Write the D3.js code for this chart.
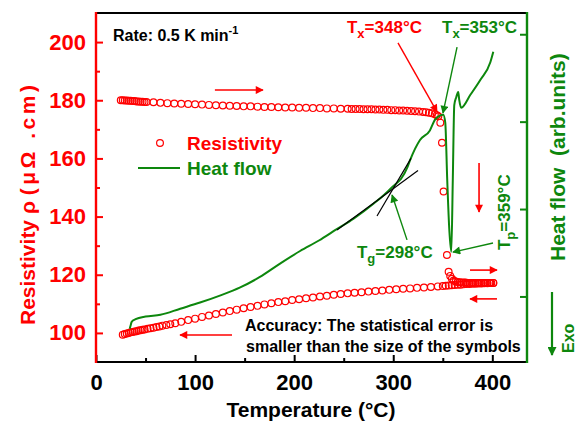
<!DOCTYPE html>
<html><head><meta charset="utf-8">
<script src="https://cdn.jsdelivr.net/npm/d3@7"></script>
<style>
body{margin:0;background:#fff}
text{font-family:Arial,"Liberation Sans",sans-serif;font-weight:bold}
</style>
</head><body><svg id="c" width="580" height="423"></svg>
<script>
// ---------- data ----------
const heatT   = [25,27,29,31,33,35,37,39,41,43,45,47,49,51,
  58,65,72,79,86,93,100,107,114,121,128,135,142,149,156,163,170,177,184,191,198,205,212,219,226,233,240,247,254,
  258,262,266,270,274,278,282,286,290,294,298,302,306,310,314,318,322,326,330,333,336,339,342,344,345.5,
  347.5,349.2,350.8,354.2,355.9,357.5,359.2,
  361,363,365,367,369,371,373,375,377,379,381,383,385,387,389,391,393,395,397,399,401];
const heatRho = [180.0,180.0,179.9,179.9,179.8,179.8,179.7,179.7,179.6,179.6,179.5,179.5,179.4,179.4,
  179.3,179.1,179.0,178.9,178.8,178.7,178.6,178.5,178.4,178.3,178.2,178.1,178.0,177.9,177.9,177.8,177.7,177.7,177.6,177.5,177.5,177.4,177.4,177.3,177.3,177.2,177.2,177.1,177.1,
  177.0,177.0,177.0,176.9,176.9,176.9,176.8,176.8,176.7,176.7,176.6,176.6,176.5,176.5,176.4,176.3,176.2,176.1,176.0,175.9,175.7,175.5,175.2,174.8,174.5,
  172.3,165.4,148.6,126.8,121.0,119.6,118.6,
  118.0,117.7,117.5,117.4,117.3,117.3,117.3,117.2,117.2,117.2,117.2,117.2,117.2,117.2,117.2,117.2,117.2,117.2,117.2,117.2,117.2];

const coolT   = [27,29,31,33,35,37,39,41,43,45,47,49,
  52,55,58,61,64,67,71,75,80,86,93,
  100,107,114,121,128,135,142,149,156,163,170,177,184,191,198,205,212,219,226,233,240,247,254,261,268,275,282,289,296,303,310,317,324,331,338,345,
  350,353,356,359,362,365,368,371,374,377,380,383,386,389,392,395,398,401];
const coolRho = [99.4,99.6,99.8,100.0,100.2,100.3,100.5,100.6,100.8,100.9,101.1,101.2,
  101.4,101.6,101.8,102.0,102.2,102.5,102.7,103.0,103.3,103.8,104.4,
  104.9,105.5,106.0,106.5,107.0,107.5,108.0,108.5,108.9,109.3,109.8,110.2,110.6,110.9,111.3,111.6,111.9,112.2,112.5,112.8,113.1,113.4,113.6,113.8,114.0,114.2,114.4,114.6,114.8,115.0,115.2,115.3,115.5,115.6,115.8,116.0,
  116.1,116.2,116.3,116.4,116.5,116.6,116.6,116.7,116.8,116.8,116.9,116.9,117.0,117.0,117.1,117.1,117.2,117.2];

const flowT   = [34,35,36,40,50,65,85,105,125,145,165,185,206,225,243,260,280,297,314,317,327,337,342,347,350.5,352.5,354.5,356.6,358.6,360.1,361.6,363.6,365.6,366.6,368.6,378,388,398,401];
const flowVal = [0.63,0.67,0.71,0.74,0.77,0.79,0.86,0.93,1.01,1.10,1.22,1.37,1.52,1.64,1.77,1.89,2.06,2.23,2.47,2.56,2.79,2.90,3.02,3.07,3.08,2.99,2.33,1.76,1.51,2.33,3.19,3.28,3.34,3.25,3.16,3.31,3.48,3.68,3.80];

// tangent construction lines (T, heat flow)
const tangentA = [[283.6,1.92],[317.9,2.58]];
const tangentB = [[243.2,1.76],[325.0,2.44]];

const xTicks = [0,100,200,300,400];
const xMinor = [50,150,250,350];
const yTicks = [100,120,140,160,180,200];
const yMinor = [110,130,150,170,190];
const flowTicks = [1,2,3,4];

// ---------- setup ----------
const RED = "#ff0000", GREEN = "#0d870d";
const svg = d3.select("#c");
const L = 96, R = 527, T = 13, B = 362;
const x = d3.scaleLinear().domain([0,435]).range([L,R]);
const y = d3.scaleLinear().domain([90,210]).range([B,T]);
const y2 = d3.scaleLinear().domain([0.25,4.243]).range([B,T]);

const defs = svg.append("defs");
function marker(id, color, w, h){
  defs.append("marker").attr("id",id).attr("markerUnits","userSpaceOnUse")
    .attr("viewBox","0 0 10 10").attr("refX",9).attr("refY",5)
    .attr("markerWidth",w).attr("markerHeight",h).attr("orient","auto")
    .append("path").attr("d","M0,0 L10,5 L0,10 z").attr("fill",color);
}
marker("ar", RED, 10, 8); marker("ag", GREEN, 10, 8); marker("agb", GREEN, 14, 9);

// ---------- data marks ----------
const coolData = coolT.map((t,i)=>[t,coolRho[i]]);
const heatData = heatT.map((t,i)=>[t,heatRho[i]]);
svg.append("g").selectAll("circle").data(coolData.concat(heatData)).join("circle")
  .attr("cx",d=>x(d[0])).attr("cy",d=>y(d[1])).attr("r",3.4)
  .attr("fill","none").attr("stroke",RED).attr("stroke-width",1.2);

const flowData = flowT.map((t,i)=>[t,flowVal[i]]);
svg.append("path").datum(flowData)
  .attr("d", d3.line().x(d=>x(d[0])).y(d=>y2(d[1])).curve(d3.curveMonotoneX))
  .attr("fill","none").attr("stroke",GREEN).attr("stroke-width",2);

[tangentA, tangentB].forEach(seg=>{
  svg.append("line").attr("x1",x(seg[0][0])).attr("y1",y2(seg[0][1]))
    .attr("x2",x(seg[1][0])).attr("y2",y2(seg[1][1]))
    .attr("stroke","#000").attr("stroke-width",1.2);
});

// ---------- axes ----------
const FONT = "Arial, Liberation Sans, sans-serif";
// bottom
const gx = svg.append("g").attr("transform",`translate(0,${B})`);
gx.call(d3.axisBottom(x).tickValues(xTicks).tickSize(-7).tickPadding(12).tickFormat(d3.format("d")));
gx.append("g").call(d3.axisBottom(x).tickValues(xMinor).tickSize(-4).tickFormat(""));
gx.selectAll(".domain").remove();
gx.selectAll("line").attr("stroke","#000").attr("stroke-width",2);
gx.selectAll("text").attr("font-size",22).attr("fill","#000").attr("font-family",FONT);
svg.append("line").attr("x1",L).attr("x2",R).attr("y1",B).attr("y2",B).attr("stroke","#000").attr("stroke-width",2.2);
svg.append("line").attr("x1",L).attr("x2",R).attr("y1",T).attr("y2",T).attr("stroke","#000").attr("stroke-width",2.2);

// left
const gy = svg.append("g").attr("transform",`translate(${L},0)`);
gy.call(d3.axisLeft(y).tickValues(yTicks).tickSize(-7).tickPadding(10));
gy.append("g").call(d3.axisLeft(y).tickValues(yMinor).tickSize(-4).tickFormat(""));
gy.selectAll(".domain").remove();
gy.selectAll("line").attr("stroke",RED).attr("stroke-width",2);
gy.selectAll("text").attr("font-size",22).attr("fill",RED).attr("font-family",FONT);
svg.append("line").attr("x1",L).attr("x2",L).attr("y1",T-1).attr("y2",B+1).attr("stroke",RED).attr("stroke-width",2.4);

// right
const gr = svg.append("g").attr("transform",`translate(${R},0)`);
gr.call(d3.axisRight(y2).tickValues(flowTicks).tickSize(-7).tickFormat(""));
gr.selectAll(".domain").remove();
gr.selectAll("line").attr("stroke",GREEN).attr("stroke-width",2);
svg.append("line").attr("x1",R).attr("x2",R).attr("y1",T-1).attr("y2",B+1).attr("stroke",GREEN).attr("stroke-width",2.4);

// ---------- titles ----------
svg.append("text").attr("x",311).attr("y",417).attr("text-anchor","middle")
  .attr("font-size",21).attr("fill","#000").text("Temperature (°C)");
const lt = svg.append("text").attr("transform","translate(35,325) rotate(-90)").attr("text-anchor","start")
  .attr("font-size",21).attr("fill",RED).attr("xml:space","preserve");
lt.append("tspan").text("Resistivity ρ ");
lt.append("tspan").attr("letter-spacing",3.5).text("(μΩ .cm)");
svg.append("text").attr("transform","translate(565,261) rotate(-90)").attr("text-anchor","start")
  .attr("font-size",21).attr("fill",GREEN).attr("xml:space","preserve").text("Heat flow  (arb.units)");
svg.append("text").attr("transform","translate(574,353) rotate(-90)").attr("text-anchor","start")
  .attr("font-size",16).attr("fill",GREEN).text("Exo");
svg.append("line").attr("x1",552).attr("x2",552).attr("y1",292).attr("y2",355)
  .attr("stroke",GREEN).attr("stroke-width",2.2).attr("marker-end","url(#agb)");

// ---------- texts ----------
const rate = svg.append("text").attr("x",113).attr("y",41).attr("font-size",16).attr("fill","#000");
rate.append("tspan").text("Rate: 0.5 K min");
rate.append("tspan").attr("dy",-7).attr("font-size",11).text("-1");

const acc = svg.append("text").attr("font-size",16).attr("fill","#000");
acc.append("tspan").attr("x",245).attr("y",331).text("Accuracy: The statistical error is");
acc.append("tspan").attr("x",246).attr("y",352).text("smaller than the size of the symbols");

// legend
svg.append("circle").attr("cx",160).attr("cy",143).attr("r",3.4).attr("fill","none").attr("stroke",RED).attr("stroke-width",1.2);
svg.append("text").attr("x",187).attr("y",150).attr("font-size",19).attr("fill",RED).text("Resistivity");
svg.append("line").attr("x1",138).attr("x2",180).attr("y1",168).attr("y2",168).attr("stroke",GREEN).attr("stroke-width",2);
svg.append("text").attr("x",187).attr("y",175).attr("font-size",19).attr("fill",GREEN).text("Heat flow");

// annotation helper (positions in data units: temperature, resistivity)
function arrow(t1,r1,t2,r2,color,id,w){
  svg.append("line").attr("x1",x(t1)).attr("y1",y(r1)).attr("x2",x(t2)).attr("y2",y(r2))
    .attr("stroke",color).attr("stroke-width",w||1.6).attr("marker-end",`url(#${id})`);
}
function sublabel(tx,ry,sub,rest,color,rot){
  const t = svg.append("text").attr("font-size",17).attr("fill",color);
  if(rot) t.attr("transform",`translate(${x(tx)},${y(ry)}) rotate(-90)`);
  else t.attr("x",x(tx)).attr("y",y(ry));
  t.append("tspan").text("T");
  t.append("tspan").attr("dy",5).attr("font-size",13).text(sub);
  t.append("tspan").attr("dy",-5).text(rest);
}
// direction arrows
arrow(120,183.5,168.5,183.5,RED,"ar");
arrow(386.6,158.4,386.6,141.6,RED,"ar");
arrow(377.5,121.6,404.7,121.6,RED,"ar");
arrow(404.7,111.7,377.5,111.7,RED,"ar");
arrow(137.3,99.3,84.8,99.3,RED,"ar");
// characteristic temperatures
sublabel(253.3,203.1,"x","=348°C",RED);
arrow(304.8,199.7,344.2,176.0,RED,"ar",1.4);
sublabel(349.2,203.1,"x","=353°C",GREEN);
arrow(364.4,198.3,350.2,175.6,GREEN,"ag",1.4);
sublabel(263.4,125.8,"g","=298°C",GREEN);
arrow(313.9,132.0,298.8,147.4,GREEN,"ag",1.4);
sublabel(417.8,128.5,"p","=359°C",GREEN,true);
arrow(400.7,130.9,360.3,127.8,GREEN,"ag",1.4);
</script>
</body></html>
